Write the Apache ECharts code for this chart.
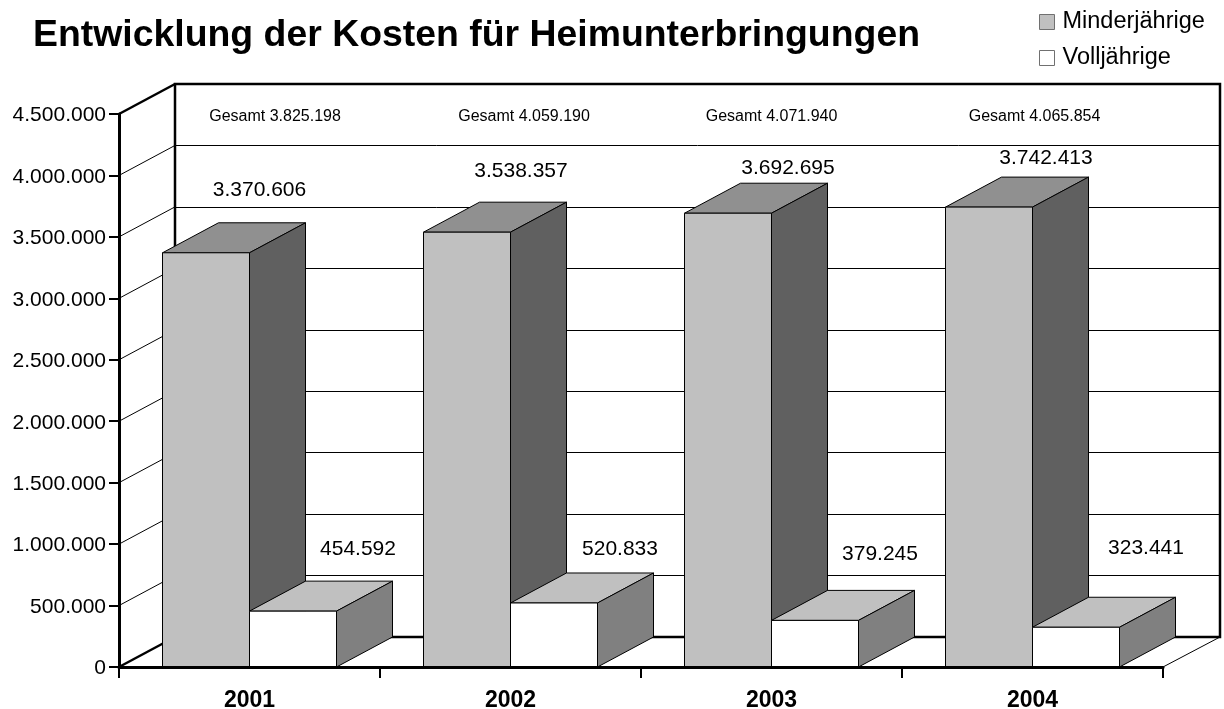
<!DOCTYPE html>
<html>
<head>
<meta charset="utf-8">
<style>html,body{margin:0;padding:0;background:#fff}#c{width:1224px;height:709px}</style>
<script src="https://cdn.jsdelivr.net/npm/echarts@6/dist/echarts.min.js"></script>
</head>
<body>
<div id="c"></div>
<script>
const years = ['2001', '2002', '2003', '2004'];
const minderjaehrige = [3370606, 3538357, 3692695, 3742413];
const volljaehrige = [454592, 520833, 379245, 323441];
const gesamt = [3825198, 4059190, 4071940, 4065854];
const yTicks = [0, 500000, 1000000, 1500000, 2000000, 2500000, 3000000, 3500000, 4000000, 4500000];

// label placement (pixels relative to the bar), kept apart from the data
const bigLabelNudge = [[10, -63], [10.5, -61], [16.5, -45], [13.5, -49]];
const smallLabelNudge = [[108.5, -62], [109.5, -54], [108.5, -66], [113.5, -79]];
const totalLabelNudgeX = [25.5, 13.5, 0, 2];

const DX = 56, DY = -30;
const FONT = '"Liberation Sans", Arial, sans-serif';
const fmt = v => String(v).replace(/\B(?=(\d{3})+$)/g, '.');

function box(api, xL, xR, yT, yB, colors) {
  const stroke = { stroke: '#000', lineWidth: 1 };
  const poly = (pts, fill) => ({
    type: 'polygon', shape: { points: pts },
    style: Object.assign({ fill: fill }, stroke)
  });
  return [
    poly([[xL, yT], [xR, yT], [xR + DX, yT + DY], [xL + DX, yT + DY]], colors.top),
    poly([[xR, yT], [xR + DX, yT + DY], [xR + DX, yB + DY], [xR, yB]], colors.side),
    poly([[xL, yT], [xR, yT], [xR, yB], [xL, yB]], colors.front)
  ];
}

function barSeries(name, values, side, colors, nudges, z) {
  return {
    name: name, type: 'custom', xAxisIndex: 0, yAxisIndex: 0, z: z,
    itemStyle: { color: colors.front },
    data: values.map((v, i) => [i, v]),
    renderItem(params, api) {
      const i = api.value(0), v = api.value(1);
      const top = api.coord([i, v]);
      const base = api.coord([i, 0]);
      const w = api.size([1, 0])[0] / 3;
      const xL = side < 0 ? top[0] - w : top[0];
      const children = box(api, xL, xL + w, top[1], base[1], colors);
      children.push({
        type: 'text',
        style: {
          text: fmt(v), x: top[0] + nudges[i][0], y: top[1] + nudges[i][1],
          align: 'center', verticalAlign: 'middle', fill: '#000',
          font: '21px ' + FONT
        }
      });
      return { type: 'group', children: children };
    }
  };
}

const option = {
  animation: false,
  backgroundColor: '#fff',
  title: {
    text: 'Entwicklung der Kosten für Heimunterbringungen',
    left: 28, top: 12,
    textStyle: { fontFamily: FONT, fontSize: 37.4, fontWeight: 'bold', color: '#000' }
  },
  legend: {
    orient: 'vertical', left: 1034, top: 5, icon: 'rect',
    itemWidth: 15, itemHeight: 15, itemGap: 12, selectedMode: false,
    itemStyle: { borderColor: '#707070', borderWidth: 1 },
    textStyle: { fontFamily: FONT, fontSize: 23.5, color: '#000', padding: [4, 0, 0, 3] },
    data: ['Minderjährige', 'Volljährige']
  },
  grid: [
    { left: 119, top: 114, width: 1044, height: 553, outerBoundsMode: 'none' },
    { left: 175, top: 84, width: 1045, height: 553, outerBoundsMode: 'none' }
  ],
  xAxis: [
    {
      type: 'category', gridIndex: 0, data: years, z: 5,
      axisLine: { lineStyle: { color: '#000', width: 3 } },
      axisTick: { show: true, alignWithLabel: false, length: 11, lineStyle: { color: '#000', width: 2 } },
      axisLabel: { fontFamily: FONT, fontSize: 23, fontWeight: 'bold', color: '#000', margin: 22 }
    },
    { type: 'category', gridIndex: 1, data: years, show: false }
  ],
  yAxis: [
    {
      type: 'value', gridIndex: 0, min: 0, max: 4500000, interval: 500000, z: 5,
      axisLine: { show: true, lineStyle: { color: '#000', width: 3 } },
      axisTick: { show: true, length: 10, lineStyle: { color: '#000', width: 2 } },
      splitLine: { show: false },
      axisLabel: { fontFamily: FONT, fontSize: 21, color: '#000', margin: 13, verticalAlign: 'top', lineHeight: 3, formatter: v => fmt(v) }
    },
    {
      type: 'value', gridIndex: 1, min: 0, max: 4500000, interval: 500000,
      axisLine: { show: false }, axisTick: { show: false }, axisLabel: { show: false },
      splitLine: { show: true, lineStyle: { color: '#000', width: 1 } }
    }
  ],
  series: [
    {
      // frame of the back wall
      type: 'custom', xAxisIndex: 1, yAxisIndex: 1, z: 1, silent: true,
      data: [[0, 0]],
      renderItem(params) {
        const c = params.coordSys;
        return {
          type: 'rect',
          shape: { x: c.x, y: c.y, width: c.width, height: c.height },
          style: { fill: 'none', stroke: '#000', lineWidth: 2.5 }
        };
      }
    },
    {
      // diagonals joining the front axis to the back wall
      type: 'custom', xAxisIndex: 0, yAxisIndex: 0, z: 1, silent: true,
      data: yTicks.map(v => [0, v]),
      renderItem(params, api) {
        const c = params.coordSys, v = api.value(1);
        const y = api.coord([0, v])[1];
        const heavy = v === 0 || v === 4500000;
        return {
          type: 'line',
          shape: { x1: c.x, y1: y, x2: c.x + DX, y2: y + DY },
          style: { stroke: '#000', lineWidth: heavy ? 2.5 : 1 }
        };
      }
    },
    {
      // right edge of the floor
      type: 'custom', xAxisIndex: 0, yAxisIndex: 0, z: 1, silent: true,
      data: [[0, 0]],
      renderItem(params) {
        const c = params.coordSys, r = c.x + c.width, b = c.y + c.height;
        return {
          type: 'line',
          shape: { x1: r, y1: b, x2: r + DX + 1, y2: b + DY },
          style: { stroke: '#000', lineWidth: 1 }
        };
      }
    },
    {
      // totals printed along the top of the wall
      type: 'custom', xAxisIndex: 0, yAxisIndex: 0, z: 2, silent: true,
      data: gesamt.map((v, i) => [i, v]),
      renderItem(params, api) {
        const i = api.value(0);
        const p = api.coord([i, 4500000]);
        return {
          type: 'text',
          style: {
            text: 'Gesamt ' + fmt(api.value(1)),
            x: p[0] + totalLabelNudgeX[i], y: p[1] + 3,
            align: 'center', verticalAlign: 'middle', fill: '#000',
            font: '16px ' + FONT
          }
        };
      }
    },
    barSeries('Minderjährige', minderjaehrige, -1,
      { front: '#c0c0c0', top: '#909090', side: '#606060' }, bigLabelNudge, 3),
    barSeries('Volljährige', volljaehrige, 1,
      { front: '#ffffff', top: '#c0c0c0', side: '#808080' }, smallLabelNudge, 4)
  ]
};

const chart = echarts.init(document.getElementById('c'), null, { renderer: 'canvas' });
chart.setOption(option);
</script>
</body>
</html>
